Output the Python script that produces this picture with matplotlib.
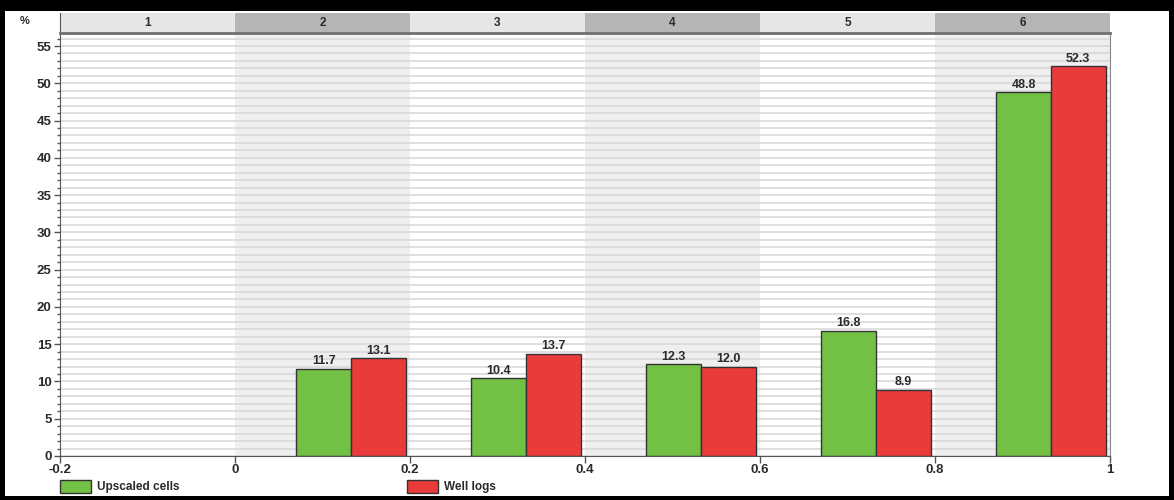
import numpy as np
import matplotlib
matplotlib.use('Agg')
from matplotlib import pyplot as plt
from matplotlib.patches import Rectangle

plt.rcParams['font.family'] = ['Liberation Sans', 'DejaVu Sans']

# data
bin_labels = ['1', '2', '3', '4', '5', '6']
bin_edges = [-0.2, 0.0, 0.2, 0.4, 0.6, 0.8, 1.0]
upscaled_cells = [0.0, 11.7, 10.4, 12.3, 16.8, 48.8]
well_logs = [0.0, 13.1, 13.7, 12.0, 8.9, 52.3]
x_ticks = [-0.2, 0.0, 0.2, 0.4, 0.6, 0.8, 1.0]
x_tick_labels = ['-0.2', '0', '0.2', '0.4', '0.6', '0.8', '1']
y_ticks = list(range(0, 56, 5))

W, H = 1174, 500
green = '#72c044'
red = '#ea3b3b'
txt = '#2a2a2a'
spine = '#555555'


def main():
    fig = plt.figure(figsize=(W / 100, H / 100), dpi=100)
    fig.patch.set_facecolor('black')
    fig.patches.append(Rectangle((5 / W, 4 / H), 1164 / W, 485 / H,
                                 transform=fig.transFigure, facecolor='white',
                                 edgecolor='none', zorder=-1))

    ax = fig.add_axes([60 / W, (H - 456) / H, 1050 / W, 423 / H])
    hax = fig.add_axes([60 / W, (H - 33) / H, 1050 / W, 20 / H])

    # column backgrounds and header cells
    for i, lab in enumerate(bin_labels):
        lo, hi = bin_edges[i], bin_edges[i + 1]
        ax.axvspan(lo, hi, color='white' if i % 2 == 0 else '#efefef', zorder=0, lw=0)
        hax.axvspan(lo, hi, color='#e6e6e6' if i % 2 == 0 else '#b5b5b5', lw=0)
        hax.text((lo + hi) / 2, 0.5, lab, ha='center', va='center',
                 fontsize=8.5, fontweight='bold', color=txt)

    # bars
    w = 0.0625
    for i in range(len(bin_labels)):
        lo = bin_edges[i]
        for val, off, col in [(upscaled_cells[i], 0.07, green), (well_logs[i], 0.07 + w, red)]:
            if val <= 0:
                continue
            ax.bar(lo + off, val, width=w, align='edge', color=col,
                   edgecolor='#333333', linewidth=1, zorder=2)
            ax.text(lo + off + w / 2, val + 0.2, f'{val:.1f}', ha='center', va='bottom',
                    fontsize=9, fontweight='bold', color=txt, zorder=3)

    ax.set_xlim(-0.2, 1.0)
    ax.set_ylim(0, 56.75)
    ax.set_yticks(y_ticks)
    ax.set_yticks(np.arange(0, 57, 1), minor=True)
    ax.set_xticks(x_ticks)
    ax.set_xticklabels(x_tick_labels)
    ax.grid(which='both', axis='y', color='#d9d9d9', linewidth=1.2, zorder=1)
    ax.set_axisbelow(True)
    for lab in ax.get_xticklabels() + ax.get_yticklabels():
        lab.set_fontweight('bold')
        lab.set_fontsize(9.5)
        lab.set_color(txt)
    ax.tick_params(axis='y', which='major', length=4, width=1, color=spine, pad=2)
    ax.tick_params(axis='y', which='minor', length=2, width=1, color=spine)
    ax.tick_params(axis='x', which='major', length=5, width=1, color=spine, pad=1)
    ax.spines['top'].set_visible(False)
    ax.spines['left'].set_color(spine)
    ax.spines['bottom'].set_color(spine)
    ax.spines['right'].set_color('#888888')

    hax.set_xlim(-0.2, 1.0)
    hax.set_ylim(0, 1)
    hax.set_xticks([])
    hax.set_yticks([])
    for s in ['top', 'right']:
        hax.spines[s].set_visible(False)
    hax.spines['left'].set_color(spine)
    hax.spines['bottom'].set_color('#707070')
    hax.spines['bottom'].set_linewidth(2)
    hax.patch.set_alpha(0)

    fig.text(20 / W, (H - 21) / H, '%', fontsize=8, fontweight='bold', color=txt,
             va='center', ha='left')

    # legend
    for x0, col, name in [(60, green, 'Upscaled cells'), (407, red, 'Well logs')]:
        fig.patches.append(Rectangle((x0 / W, (H - 493) / H), 31 / W, 13 / H,
                                     transform=fig.transFigure, facecolor=col,
                                     edgecolor='#333333', linewidth=1))
        fig.text((x0 + 37) / W, (H - 487) / H, name, fontsize=8.5, fontweight='bold',
                 color=txt, va='center', ha='left')

    fig.savefig('out.png', dpi=100)


if __name__ == '__main__':
    main()
